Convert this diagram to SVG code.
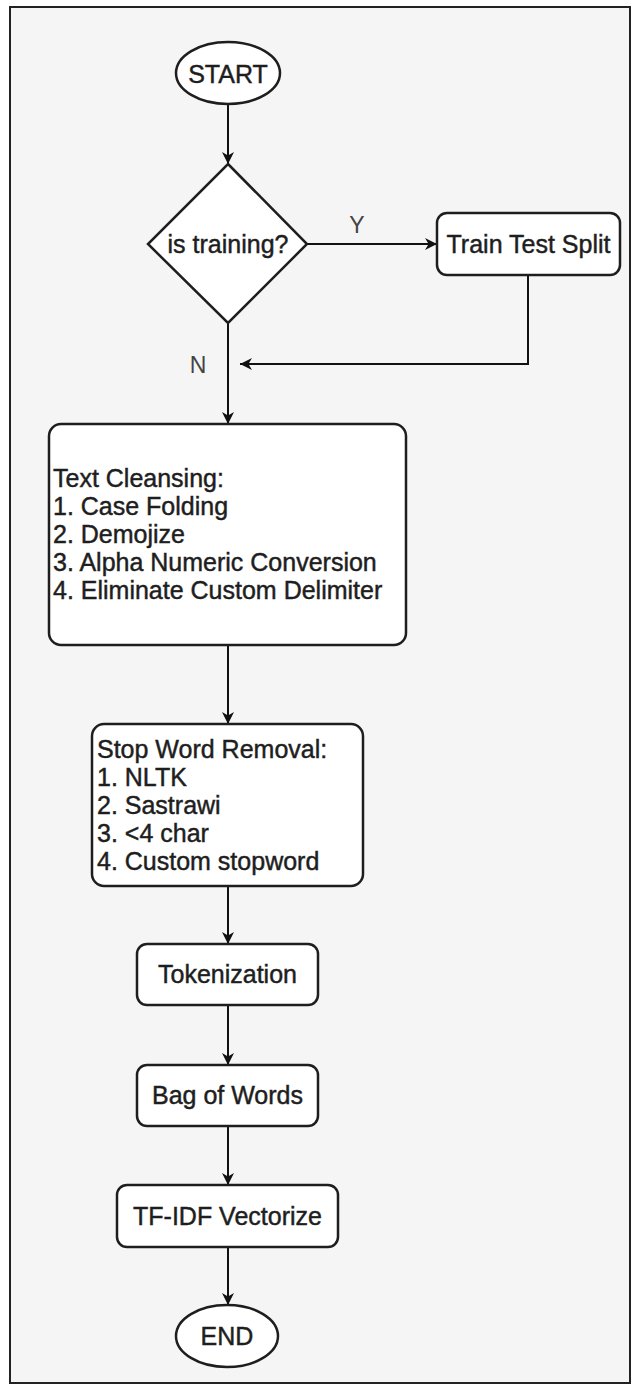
<svg xmlns="http://www.w3.org/2000/svg" width="637" height="1390" viewBox="0 0 637 1390">
<defs>
<marker id="arr" viewBox="0 0 10 10" refX="10" refY="5" markerWidth="12" markerHeight="12" markerUnits="userSpaceOnUse" orient="auto"><path d="M0,0 L10,5 L0,10 L3,5 Z" fill="#111"/></marker>
<style>
.node{fill:#fff;stroke:#1e1e1e;stroke-width:2.5}
.t{font-family:"Liberation Sans",Arial,sans-serif;font-size:25px;fill:#1e1e1e;stroke:#1e1e1e;stroke-width:0.45}
.c{text-anchor:middle}
.lbl{font-family:"Liberation Sans",Arial,sans-serif;font-size:23px;fill:#444;text-anchor:middle}
.edge{fill:none;stroke:#111;stroke-width:2;marker-end:url(#arr)}
</style>
</defs>
<rect width="637" height="1390" fill="#fff"/>
<rect x="10" y="7" width="620" height="1376" fill="#f5f5f5" stroke="#222" stroke-width="2"/>
<g id="connectors">
<path class="edge" d="M228,104 V164"/>
<path class="edge" d="M307,244 H437"/>
<path class="edge" d="M528,275 V364 H240"/>
<path class="edge" d="M228,323 V424"/>
<path class="edge" d="M228,645 V724"/>
<path class="edge" d="M228,886 V944"/>
<path class="edge" d="M228,1005 V1065"/>
<path class="edge" d="M228,1126 V1185"/>
<path class="edge" d="M228,1247 V1305"/>
<text class="lbl" x="357" y="233">Y</text>
<text class="lbl" x="198" y="373">N</text>
</g>
<g id="start">
<ellipse class="node" cx="228" cy="73" rx="52" ry="31"/>
<text class="t c" x="228" y="83">START</text>
</g>
<g id="decision">
<polygon class="node" points="228,164 307,244 228,323 148,244"/>
<text class="t c" x="228" y="253">is training?</text>
</g>
<g id="split">
<rect class="node" x="437" y="213" width="183" height="62" rx="10"/>
<text class="t c" x="528.5" y="253">Train Test Split</text>
</g>
<g id="cleansing">
<rect class="node" x="49" y="424" width="357" height="221" rx="12"/>
<text class="t" x="53" y="487">Text Cleansing:</text>
<text class="t" x="53" y="515">1. Case Folding</text>
<text class="t" x="53" y="543">2. Demojize</text>
<text class="t" x="53" y="571">3. Alpha Numeric Conversion</text>
<text class="t" x="53" y="599">4. Eliminate Custom Delimiter</text>
</g>
<g id="stopword">
<rect class="node" x="92" y="724" width="271" height="162" rx="12"/>
<text class="t" x="97" y="758">Stop Word Removal:</text>
<text class="t" x="97" y="786">1. NLTK</text>
<text class="t" x="97" y="814">2. Sastrawi</text>
<text class="t" x="97" y="842">3. &lt;4 char</text>
<text class="t" x="97" y="870">4. Custom stopword</text>
</g>
<g id="tokenization">
<rect class="node" x="137" y="944" width="181" height="61" rx="10"/>
<text class="t c" x="227.5" y="983">Tokenization</text>
</g>
<g id="bow">
<rect class="node" x="137" y="1065" width="181" height="61" rx="10"/>
<text class="t c" x="227.5" y="1104">Bag of Words</text>
</g>
<g id="tfidf">
<rect class="node" x="117" y="1185" width="221" height="62" rx="10"/>
<text class="t c" x="227.5" y="1225">TF-IDF Vectorize</text>
</g>
<g id="end">
<ellipse class="node" cx="227" cy="1336" rx="51" ry="31"/>
<text class="t c" x="227" y="1345">END</text>
</g>
</svg>
